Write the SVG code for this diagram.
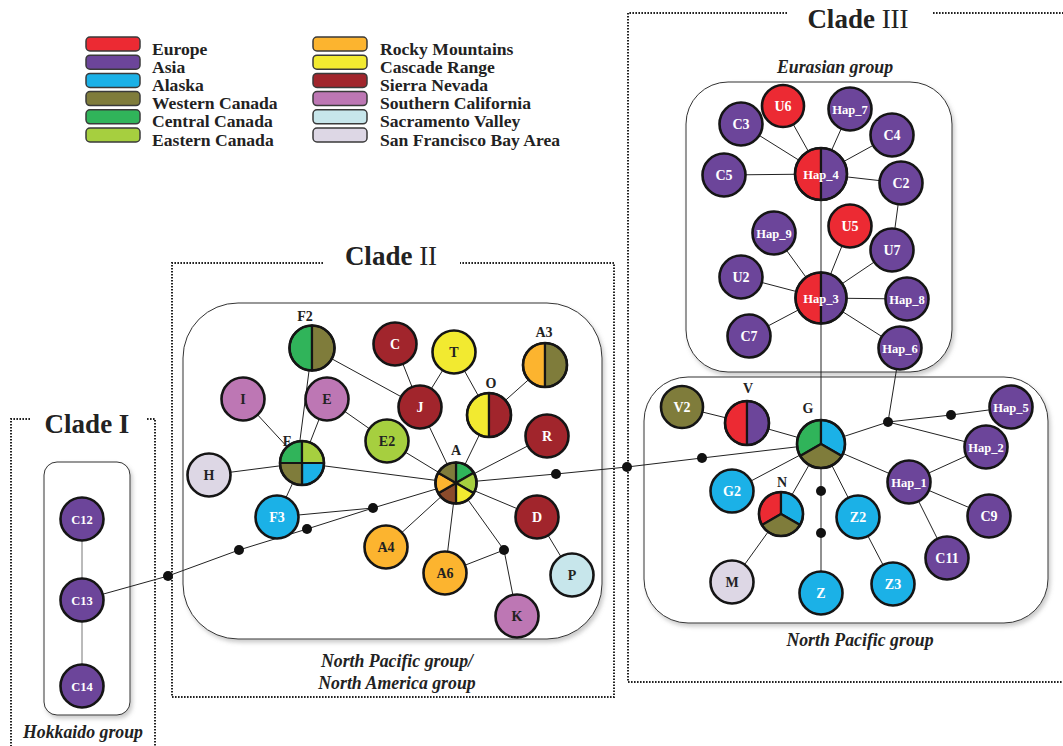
<svg xmlns="http://www.w3.org/2000/svg" width="1063" height="746" viewBox="0 0 1063 746">
<style>
text{font-family:"Liberation Serif","Times New Roman",serif;font-weight:bold}
.leg rect{stroke:#3a3a3a;stroke-width:1.5}
.leg text{font-size:17.6px;fill:#222}
.frame{fill:none;stroke:#222;stroke-width:2;stroke-dasharray:1.6 1.4}
.box{fill:#fff;stroke:#333;stroke-width:1}
.title{font-size:27px;fill:#222;text-anchor:middle}
.title tspan{font-weight:normal}
.grp{font-size:17.8px;font-style:italic;fill:#222;text-anchor:middle}
.e line,.e polyline{stroke:#222;stroke-width:1;fill:none}
.e .g{stroke:#777}
.dot{fill:#111}
circle.n{stroke:#151515;stroke-width:2.6}
.p path{stroke:#151515;stroke-width:2.2;stroke-linejoin:round}
.ring{fill:none;stroke:#151515;stroke-width:2.6}
.t{font-size:14px;text-anchor:middle}
.w{fill:#fff}
.k{fill:#222}
.s{font-size:12.5px}
.pl{font-size:14px;fill:#222;text-anchor:middle}
.eu{fill:#EC2A33}.as{fill:#6C459A}.ak{fill:#1BB1E7}.wc{fill:#7F7C3B}.cc{fill:#30B45A}.ec{fill:#A6CF3F}
.rm{fill:#FCB42F}.cr{fill:#F2EA30}.sn{fill:#A1252C}.sc{fill:#BD77B4}.sv{fill:#C7E6EB}.sf{fill:#DDD7E5}.br{fill:#8B4B2B}
</style>
<defs>
<filter id="sh" x="-5%" y="-5%" width="112%" height="112%">
<feDropShadow dx="2" dy="3" stdDeviation="2" flood-color="#888" flood-opacity="0.45"/>
</filter>
</defs>
<rect width="1063" height="746" fill="#fff"/>

<!-- legend -->
<g id="legend" class="leg">
<rect class="eu" x="86" y="37" width="54" height="14" rx="4"/><text x="152" y="54.5">Europe</text>
<rect class="as" x="86" y="55.2" width="54" height="14" rx="4"/><text x="152" y="72.7">Asia</text>
<rect class="ak" x="86" y="73.4" width="54" height="14" rx="4"/><text x="152" y="90.9">Alaska</text>
<rect class="wc" x="86" y="91.6" width="54" height="14" rx="4"/><text x="152" y="109.1">Western Canada</text>
<rect class="cc" x="86" y="109.8" width="54" height="14" rx="4"/><text x="152" y="127.3">Central Canada</text>
<rect class="ec" x="86" y="128" width="54" height="14" rx="4"/><text x="152" y="145.5">Eastern Canada</text>
<rect class="rm" x="313" y="37" width="54" height="14" rx="4"/><text x="380" y="54.5">Rocky Mountains</text>
<rect class="cr" x="313" y="55.2" width="54" height="14" rx="4"/><text x="380" y="72.7">Cascade Range</text>
<rect class="sn" x="313" y="73.4" width="54" height="14" rx="4"/><text x="380" y="90.9">Sierra Nevada</text>
<rect class="sc" x="313" y="91.6" width="54" height="14" rx="4"/><text x="380" y="109.1">Southern California</text>
<rect class="sv" x="313" y="109.8" width="54" height="14" rx="4"/><text x="380" y="127.3">Sacramento Valley</text>
<rect class="sf" x="313" y="128" width="54" height="14" rx="4"/><text x="380" y="145.5">San Francisco Bay Area</text>
</g>

<!-- clade frames -->
<g id="frames">
<path class="frame" d="M787,13 H628 V682 H1063 M933,13 H1063"/>
<text class="title" x="858" y="28">Clade <tspan>III</tspan></text>
<path class="frame" d="M323,263 H172 V697 H614 V263 H460"/>
<text class="title" x="391" y="265">Clade <tspan>II</tspan></text>
<path class="frame" d="M30,419 H11 V746 M147,419 H155 V746"/>
<text class="title" x="87" y="433">Clade I</text>
</g>

<!-- group boxes -->
<g id="boxes">
<rect class="box" filter="url(#sh)" x="44" y="462" width="86" height="253" rx="13"/>
<rect class="box" filter="url(#sh)" x="183" y="303" width="419" height="336" rx="55"/>
<rect class="box" filter="url(#sh)" x="686" y="82" width="266" height="290" rx="42"/>
<rect class="box" filter="url(#sh)" x="644" y="377" width="404" height="246" rx="44"/>
<text class="grp" x="83" y="738">Hokkaido group</text>
<text class="grp" x="397" y="667">North Pacific group/</text>
<text class="grp" x="397" y="689">North America group</text>
<text class="grp" x="835" y="73">Eurasian group</text>
<text class="grp" x="860" y="646">North Pacific group</text>
</g>

<!-- connectors -->
<g id="connectors" class="e">
<line class="g" x1="82" y1="519" x2="82" y2="686"/>
<polyline points="82,600 168,576 239,550 307,529 373,508 456,483"/>
<line x1="277" y1="517" x2="373" y2="508"/>
<line x1="312" y1="348" x2="297" y2="463"/>
<line x1="312" y1="348" x2="420" y2="407"/>
<line x1="395" y1="344" x2="420" y2="407"/>
<line x1="454" y1="352" x2="420" y2="407"/>
<line x1="454" y1="352" x2="489" y2="415"/>
<line x1="489" y1="415" x2="545" y2="365"/>
<line x1="489" y1="415" x2="456" y2="483"/>
<line x1="420" y1="407" x2="456" y2="483"/>
<line x1="243" y1="399" x2="302" y2="463"/>
<line x1="327" y1="399" x2="302" y2="463"/>
<line x1="327" y1="399" x2="387" y2="441"/>
<line x1="387" y1="441" x2="456" y2="483"/>
<line x1="547" y1="436" x2="456" y2="483"/>
<line x1="209" y1="475" x2="302" y2="463"/>
<line x1="302" y1="463" x2="456" y2="483"/>
<line x1="302" y1="463" x2="277" y2="517"/>
<line x1="456" y1="483" x2="386" y2="547"/>
<line x1="456" y1="483" x2="445" y2="573"/>
<line x1="456" y1="483" x2="504" y2="550"/>
<line x1="504" y1="550" x2="445" y2="573"/>
<line x1="504" y1="550" x2="517" y2="616"/>
<line x1="456" y1="483" x2="537" y2="517"/>
<line x1="537" y1="517" x2="572" y2="575"/>
<polyline points="456,483 556,474 627,467 702,458 821,444"/>
<line x1="821" y1="174" x2="783" y2="106"/>
<line x1="821" y1="174" x2="741" y2="124"/>
<line x1="821" y1="174" x2="850" y2="109"/>
<line x1="821" y1="174" x2="892" y2="135"/>
<line x1="821" y1="174" x2="724" y2="175"/>
<line x1="821" y1="174" x2="901" y2="183"/>
<line x1="901" y1="183" x2="892" y2="250"/>
<line x1="821" y1="174" x2="821" y2="444"/>
<line x1="821" y1="298" x2="774" y2="233"/>
<line x1="821" y1="298" x2="850" y2="226"/>
<line x1="821" y1="298" x2="892" y2="250"/>
<line x1="821" y1="298" x2="741" y2="277"/>
<line x1="821" y1="298" x2="907" y2="299"/>
<line x1="821" y1="298" x2="749" y2="336"/>
<line x1="821" y1="298" x2="900" y2="348"/>
<line x1="900" y1="348" x2="888" y2="422"/>
<line x1="821" y1="444" x2="888" y2="422"/>
<polyline points="888,422 951,415 1011,407"/>
<line x1="888" y1="422" x2="986" y2="447"/>
<line x1="682" y1="407" x2="747" y2="423"/>
<line x1="747" y1="423" x2="821" y2="444"/>
<line x1="821" y1="444" x2="732" y2="491"/>
<line x1="821" y1="444" x2="781" y2="514"/>
<line x1="781" y1="514" x2="732" y2="582"/>
<line x1="821" y1="444" x2="821" y2="593"/>
<line x1="821" y1="444" x2="858" y2="517"/>
<line x1="858" y1="517" x2="893" y2="584"/>
<line x1="821" y1="444" x2="909" y2="482"/>
<line x1="909" y1="482" x2="986" y2="447"/>
<line x1="909" y1="482" x2="989" y2="516"/>
<line x1="909" y1="482" x2="947" y2="558"/>
</g>

<!-- median vectors -->
<g id="median-vectors">
<circle class="dot" cx="168" cy="576" r="5"/>
<circle class="dot" cx="239" cy="550" r="5"/>
<circle class="dot" cx="307" cy="529" r="5"/>
<circle class="dot" cx="373" cy="508" r="5"/>
<circle class="dot" cx="504" cy="550" r="5"/>
<circle class="dot" cx="556" cy="474" r="5"/>
<circle class="dot" cx="627" cy="467" r="5"/>
<circle class="dot" cx="702" cy="458" r="5"/>
<circle class="dot" cx="888" cy="422" r="5"/>
<circle class="dot" cx="951" cy="415" r="5"/>
<circle class="dot" cx="821" cy="491" r="5"/>
<circle class="dot" cx="821" cy="533" r="5"/>
</g>

<!-- Clade I nodes -->
<g id="C12"><circle class="n as" cx="82" cy="519" r="21.5"/><text class="t s w" x="82" y="523.5">C12</text></g>
<g id="C13"><circle class="n as" cx="82" cy="600" r="21.5"/><text class="t s w" x="82" y="604.5">C13</text></g>
<g id="C14"><circle class="n as" cx="82" cy="686" r="21.5"/><text class="t s w" x="82" y="690.5">C14</text></g>

<!-- Clade II nodes -->
<g id="F2" class="p"><path class="cc" d="M312,325.5 A22.5,22.5 0 0 0 312,370.5 Z"/><path class="wc" d="M312,325.5 A22.5,22.5 0 0 1 312,370.5 Z"/><circle class="ring" cx="312" cy="348" r="22.5"/><text class="pl" x="305" y="321">F2</text></g>
<g id="C"><circle class="n sn" cx="395" cy="344" r="21.5"/><text class="t w" x="395" y="349">C</text></g>
<g id="T"><circle class="n cr" cx="454" cy="352" r="21.5"/><text class="t k" x="454" y="357">T</text></g>
<g id="A3" class="p"><path class="rm" d="M545,343 A22,22 0 0 0 545,387 Z"/><path class="wc" d="M545,343 A22,22 0 0 1 545,387 Z"/><circle class="ring" cx="545" cy="365" r="22"/><text class="pl" x="544" y="337">A3</text></g>
<g id="I"><circle class="n sc" cx="243" cy="399" r="21.5"/><text class="t k" x="243" y="404">I</text></g>
<g id="E"><circle class="n sc" cx="327" cy="399" r="21.5"/><text class="t k" x="327" y="404">E</text></g>
<g id="J"><circle class="n sn" cx="420" cy="407" r="21.5"/><text class="t w" x="420" y="412">J</text></g>
<g id="O" class="p"><path class="cr" d="M489,393 A22,22 0 0 0 489,437 Z"/><path class="sn" d="M489,393 A22,22 0 0 1 489,437 Z"/><circle class="ring" cx="489" cy="415" r="22"/><text class="pl" x="491" y="388">O</text></g>
<g id="R"><circle class="n sn" cx="547" cy="436" r="21.5"/><text class="t w" x="547" y="441">R</text></g>
<g id="E2"><circle class="n ec" cx="387" cy="441" r="21.5"/><text class="t k" x="387" y="446">E2</text></g>
<g id="F" class="p">
<path class="cc" d="M302,463 L280,463 A22,22 0 0 1 302,441 Z"/>
<path class="ec" d="M302,463 L302,441 A22,22 0 0 1 324,463 Z"/>
<path class="ak" d="M302,463 L324,463 A22,22 0 0 1 302,485 Z"/>
<path class="wc" d="M302,463 L302,485 A22,22 0 0 1 280,463 Z"/>
<circle class="ring" cx="302" cy="463" r="22"/><text class="pl" x="287" y="446">F</text></g>
<g id="H"><circle class="n sf" cx="209" cy="475" r="21.5"/><text class="t k" x="209" y="480">H</text></g>
<g id="A" class="p">
<path class="cc" d="M456,483 L456,462.5 A20.5,20.5 0 0 1 473.75,472.75 Z"/>
<path class="ec" d="M456,483 L473.75,472.75 A20.5,20.5 0 0 1 473.75,493.25 Z"/>
<path class="cr" d="M456,483 L473.75,493.25 A20.5,20.5 0 0 1 456,503.5 Z"/>
<path class="br" d="M456,483 L456,503.5 A20.5,20.5 0 0 1 438.25,493.25 Z"/>
<path class="rm" d="M456,483 L438.25,493.25 A20.5,20.5 0 0 1 438.25,472.75 Z"/>
<path class="wc" d="M456,483 L438.25,472.75 A20.5,20.5 0 0 1 456,462.5 Z"/>
<circle class="ring" cx="456" cy="483" r="20.5"/><text class="pl" x="456" y="455">A</text></g>
<g id="F3"><circle class="n ak" cx="277" cy="517" r="21.5"/><text class="t w" x="277" y="522">F3</text></g>
<g id="D"><circle class="n sn" cx="537" cy="517" r="21.5"/><text class="t w" x="537" y="522">D</text></g>
<g id="A4"><circle class="n rm" cx="386" cy="547" r="21.5"/><text class="t k" x="386" y="552">A4</text></g>
<g id="A6"><circle class="n rm" cx="445" cy="573" r="21.5"/><text class="t k" x="445" y="578">A6</text></g>
<g id="P"><circle class="n sv" cx="572" cy="575" r="21.5"/><text class="t k" x="572" y="580">P</text></g>
<g id="K"><circle class="n sc" cx="517" cy="616" r="21.5"/><text class="t k" x="517" y="621">K</text></g>

<!-- Clade III Eurasian nodes -->
<g id="U6"><circle class="n eu" cx="783" cy="106" r="21"/><text class="t w" x="783" y="111">U6</text></g>
<g id="C3"><circle class="n as" cx="741" cy="124" r="21.5"/><text class="t w" x="741" y="129">C3</text></g>
<g id="Hap_7"><circle class="n as" cx="850" cy="109" r="21.5"/><text class="t s w" x="850" y="113.5">Hap_7</text></g>
<g id="C4"><circle class="n as" cx="892" cy="135" r="21.5"/><text class="t w" x="892" y="140">C4</text></g>
<g id="C5"><circle class="n as" cx="724" cy="175" r="21.5"/><text class="t w" x="724" y="180">C5</text></g>
<g id="Hap_4" class="p"><path class="eu" d="M821,148 A26,26 0 0 0 821,200 Z"/><path class="as" d="M821,148 A26,26 0 0 1 821,200 Z"/><circle class="ring" cx="821" cy="174" r="26"/><text class="t s w" x="821" y="178.5">Hap_4</text></g>
<g id="C2"><circle class="n as" cx="901" cy="183" r="21.5"/><text class="t w" x="901" y="188">C2</text></g>
<g id="Hap_9"><circle class="n as" cx="774" cy="233" r="21.5"/><text class="t s w" x="774" y="237.5">Hap_9</text></g>
<g id="U5"><circle class="n eu" cx="850" cy="226" r="21.5"/><text class="t w" x="850" y="231">U5</text></g>
<g id="U7"><circle class="n as" cx="892" cy="250" r="21.5"/><text class="t w" x="892" y="255">U7</text></g>
<g id="U2"><circle class="n as" cx="741" cy="277" r="21.5"/><text class="t w" x="741" y="282">U2</text></g>
<g id="Hap_3" class="p"><path class="eu" d="M821,272.5 A25.5,25.5 0 0 0 821,323.5 Z"/><path class="as" d="M821,272.5 A25.5,25.5 0 0 1 821,323.5 Z"/><circle class="ring" cx="821" cy="298" r="25.5"/><text class="t s w" x="821" y="302.5">Hap_3</text></g>
<g id="Hap_8"><circle class="n as" cx="907" cy="299" r="21.5"/><text class="t s w" x="907" y="303.5">Hap_8</text></g>
<g id="C7"><circle class="n as" cx="749" cy="336" r="21.5"/><text class="t w" x="749" y="341">C7</text></g>
<g id="Hap_6"><circle class="n as" cx="900" cy="348" r="21.5"/><text class="t s w" x="900" y="352.5">Hap_6</text></g>

<!-- Clade III North Pacific nodes -->
<g id="V2"><circle class="n wc" cx="682" cy="407" r="21"/><text class="t w" x="682" y="412">V2</text></g>
<g id="V" class="p"><path class="eu" d="M747,401 A22,22 0 0 0 747,445 Z"/><path class="as" d="M747,401 A22,22 0 0 1 747,445 Z"/><circle class="ring" cx="747" cy="423" r="22"/><text class="pl" x="748" y="393">V</text></g>
<g id="G" class="p">
<path class="cc" d="M821,444 L821,420 A24,24 0 0 0 800.22,456 Z"/>
<path class="ak" d="M821,444 L821,420 A24,24 0 0 1 841.78,456 Z"/>
<path class="wc" d="M821,444 L800.22,456 A24,24 0 0 0 841.78,456 Z"/>
<circle class="ring" cx="821" cy="444" r="24"/><text class="pl" x="808" y="413">G</text></g>
<g id="Hap_5"><circle class="n as" cx="1011" cy="407" r="21.5"/><text class="t s w" x="1011" y="411.5">Hap_5</text></g>
<g id="Hap_2"><circle class="n as" cx="986" cy="447" r="21.5"/><text class="t s w" x="986" y="451.5">Hap_2</text></g>
<g id="G2"><circle class="n ak" cx="732" cy="491" r="21.5"/><text class="t w" x="732" y="496">G2</text></g>
<g id="N" class="p">
<path class="eu" d="M781,514 L781,492 A22,22 0 0 0 761.95,525 Z"/>
<path class="ak" d="M781,514 L781,492 A22,22 0 0 1 800.05,525 Z"/>
<path class="wc" d="M781,514 L761.95,525 A22,22 0 0 0 800.05,525 Z"/>
<circle class="ring" cx="781" cy="514" r="22"/><text class="pl" x="782" y="487">N</text></g>
<g id="Z2"><circle class="n ak" cx="858" cy="517" r="21.5"/><text class="t w" x="858" y="522">Z2</text></g>
<g id="Hap_1"><circle class="n as" cx="909" cy="482" r="21.5"/><text class="t s w" x="909" y="486.5">Hap_1</text></g>
<g id="C9"><circle class="n as" cx="989" cy="516" r="21.5"/><text class="t w" x="989" y="521">C9</text></g>
<g id="C11"><circle class="n as" cx="947" cy="558" r="21.5"/><text class="t w" x="947" y="563">C11</text></g>
<g id="M"><circle class="n sf" cx="732" cy="582" r="21.5"/><text class="t k" x="732" y="587">M</text></g>
<g id="Z"><circle class="n ak" cx="821" cy="593" r="21.5"/><text class="t w" x="821" y="598">Z</text></g>
<g id="Z3"><circle class="n ak" cx="893" cy="584" r="21.5"/><text class="t w" x="893" y="589">Z3</text></g>
</svg>
